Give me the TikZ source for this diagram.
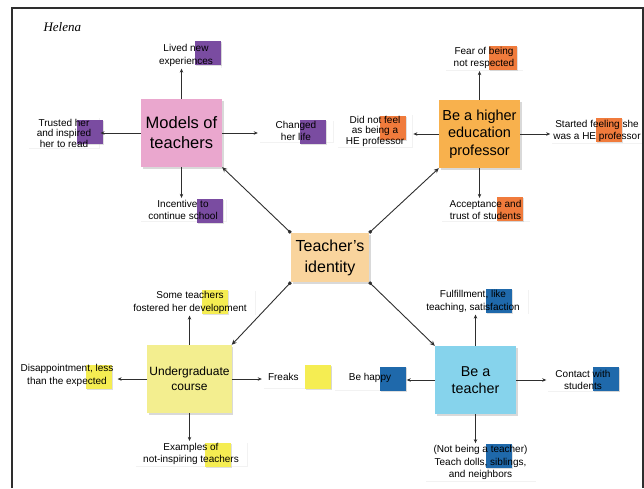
\documentclass[tikz,border=0pt]{standalone}
\usepackage{fontspec}
\setmainfont{Liberation Sans}
\newfontfamily\helenafont{Liberation Serif}
\usetikzlibrary{arrows.meta,backgrounds,shadows}

\definecolor{pinknote}{HTML}{EAA7CE}
\definecolor{orangenote}{HTML}{F8B14D}
\definecolor{idnote}{HTML}{F9D49D}
\definecolor{yellownote}{HTML}{F3EE8F}
\definecolor{bluenote}{HTML}{86D3EC}
\definecolor{purplestick}{HTML}{7A4CA1}
\definecolor{orangestick}{HTML}{F07B3C}
\definecolor{yellowstick}{HTML}{F5ED52}
\definecolor{bluestick}{HTML}{1F69AB}
\definecolor{linegray}{HTML}{2E2E2E}

\tikzset{
  main/.style={minimum width=81pt,minimum height=68pt,inner sep=2pt,align=center,
    drop shadow={shadow xshift=1.5pt,shadow yshift=-1.5pt,opacity=0.3}},
  leaf/.style={align=center,inner xsep=8pt,inner ysep=1pt,font=\fontsize{10}{12.5}\selectfont},
  tight/.style={font=\fontsize{10}{10.5}\selectfont},
  sticky/.style={minimum width=26pt,minimum height=24pt,inner sep=0pt,
    drop shadow={shadow xshift=1pt,shadow yshift=-1pt,opacity=0.25}},
  arr/.style={draw=linegray,line width=0.9pt,-{Stealth[length=4pt,width=3.5pt]},shorten >=1pt},
  link/.style={draw=linegray,line width=0.9pt,{Square[length=2.8pt,width=2.8pt]}-{Stealth[length=5pt,width=4.5pt]}}
}

\begin{document}
\begin{tikzpicture}[x=1pt,y=-1pt]
\useasboundingbox (0,0) rectangle (644,488);

\draw[linegray,line width=1.2pt] (12,488)--(12,8)--(643,8)--(643,488);

\node[anchor=west,font=\helenafont\fontsize{13}{15}\selectfont\itshape] (helena) at (40,27) {Helena};

% main notes
\node[main,fill=idnote,minimum width=78pt,minimum height=49pt,font=\fontsize{16}{21}\selectfont] (identity) at (330,257.5) {Teacher’s\\identity};
\node[main,fill=pinknote,font=\fontsize{16.5}{20}\selectfont] (models) at (181.5,133) {Models of\\teachers};
\node[main,fill=orangenote,font=\fontsize{14.5}{17.5}\selectfont] (higher) at (479.5,134) {Be a higher\\education\\professor};
\node[main,fill=yellownote,font=\fontsize{12}{15}\selectfont] (undergrad) at (189.5,379) {Undergraduate\\course};
\node[main,fill=bluenote,font=\fontsize{14.3}{17}\selectfont] (teacher) at (475.5,380) {Be a\\teacher};

% leaves
\node[leaf] (lived) at (186,55.5) {Lived new\\experiences};
\node[leaf,tight] (trusted) at (64,133) {Trusted her\\and inspired\\her to read};
\node[leaf,minimum width=74pt] (changed) at (296,131) {Changed\\her life};
\node[leaf] (incentive) at (183,210) {Incentive to\\continue school};

\node[leaf] (fear) at (484,58) {Fear of being\\not respected};
\node[leaf,tight] (didnot) at (375,131) {Did not feel\\as being a\\HE professor};
\node[leaf,inner xsep=2pt] (started) at (597,131) {Started feeling she\\was a HE professor};
\node[leaf] (accept) at (485.5,210) {Acceptance and\\trust of students};

\node[leaf] (someteach) at (190,302.5) {Some teachers\\fostered her development};
\node[leaf,inner xsep=3pt] (disappoint) at (67,375.5) {Disappointment, less\\than the expected};
\node[leaf,text width=58pt,align=left,inner xsep=5pt,minimum height=21pt] (freaks) at (297,377) {Freaks};
\node[leaf] (examples) at (191,454) {Examples of\\not-inspiring teachers};

\node[leaf] (fulfil) at (473,301.5) {Fulfillment, like\\teaching, satisfaction};
\node[leaf,minimum width=71pt,minimum height=23pt] (behappy) at (370,378) {Be happy};
\node[leaf] (contact) at (583,380) {Contact with\\students};
\node[leaf] (notbeing) at (480.5,462.5) {(Not being a teacher)\\Teach dolls, siblings,\\and neighbors};

% paper and sticky squares behind the leaf texts
\begin{scope}[on background layer]
\foreach \n in {lived,trusted,changed,incentive,fear,didnot,started,accept,someteach,disappoint,freaks,examples,fulfil,behappy,contact,notbeing}
  \fill[white,drop shadow={shadow xshift=0.8pt,shadow yshift=-0.8pt,opacity=0.1}] (\n.north west) rectangle (\n.south east);

\node[sticky,fill=purplestick] (sq-lived) at (208,53) {};
\node[sticky,fill=purplestick] (sq-trusted) at (90,131.5) {};
\node[sticky,fill=purplestick] (sq-changed) at (313,131.5) {};
\node[sticky,fill=purplestick] (sq-incentive) at (210,211) {};

\node[sticky,fill=orangestick,minimum width=28pt] (sq-fear) at (503,57.5) {};
\node[sticky,fill=orangestick] (sq-didnot) at (393,128) {};
\node[sticky,fill=orangestick] (sq-started) at (609,130) {};
\node[sticky,fill=orangestick] (sq-accept) at (510,209) {};

\node[sticky,fill=yellowstick] (sq-someteach) at (215,301.5) {};
\node[sticky,fill=yellowstick] (sq-disappoint) at (99,376.5) {};
\node[sticky,fill=yellowstick] (sq-freaks) at (318,376.5) {};
\node[sticky,fill=yellowstick] (sq-examples) at (218,454.5) {};

\node[sticky,fill=bluestick] (sq-fulfil) at (499,301) {};
\node[sticky,fill=bluestick] (sq-behappy) at (393,378.5) {};
\node[sticky,fill=bluestick] (sq-contact) at (606,379) {};
\node[sticky,fill=bluestick] (sq-notbeing) at (499,456) {};
\end{scope}

% leaf arrows
\draw[arr] (models.north) -- (models.north |- lived.south);
\draw[arr] (models.west) -- (models.west -| trusted.east);
\draw[arr] (models.east) -- (models.east -| changed.west);
\draw[arr] (models.south) -- (models.south |- incentive.north);

\draw[arr] (higher.north) -- (higher.north |- fear.south);
\draw[arr] (higher.west) -- (higher.west -| didnot.east);
\draw[arr] (higher.east) -- (higher.east -| started.west);
\draw[arr] (higher.south) -- (higher.south |- accept.north);

\draw[arr] (undergrad.north) -- (undergrad.north |- someteach.south);
\draw[arr] (undergrad.west) -- (undergrad.west -| disappoint.east);
\draw[arr] (undergrad.east) -- (undergrad.east -| freaks.west);
\draw[arr] (undergrad.south) -- (undergrad.south |- examples.north);

\draw[arr] (teacher.north) -- (teacher.north |- fulfil.south);
\draw[arr] (teacher.west) -- (teacher.west -| behappy.east);
\draw[arr] (teacher.east) -- (teacher.east -| contact.west);
\draw[arr] (teacher.south) -- (teacher.south |- notbeing.north);

% links from the centre
\draw[link] (identity.north west) -- (models.south east);
\draw[link] (identity.north east) -- (higher.south west);
\draw[link] (identity.south west) -- (undergrad.north east);
\draw[link] (identity.south east) -- (teacher.north west);

\end{tikzpicture}
\end{document}
